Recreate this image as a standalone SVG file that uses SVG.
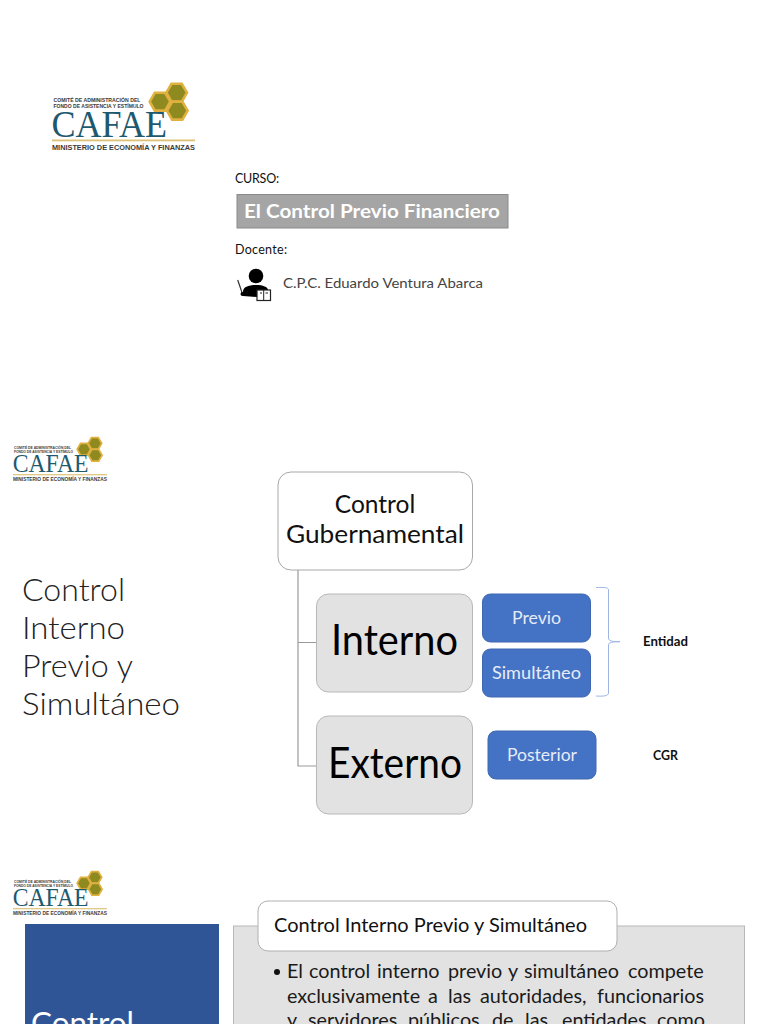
<svg xmlns="http://www.w3.org/2000/svg" width="768" height="1024" viewBox="0 0 768 1024">
<style>
text{font-family:"Lato","Carlito","Open Sans",sans-serif;fill:#111}
.big{font-size:42px;fill:#000}
.blue{fill:#4472c4;stroke:#3e68b2;stroke-width:1}
.gray{fill:#e2e2e2;stroke:#b8b8b8;stroke-width:1}
.wh{font-size:17px;fill:#e6ecf7}
.title{font-size:31px;font-weight:300;fill:#222}
.body{font-size:19.8px;fill:#1a1a1a}
.lab{font-size:12.5px;font-weight:700;fill:#111}
.conn{fill:none;stroke:#9a9a9a;stroke-width:1.2}
.hex{fill:#8f8a1f;stroke:#e0b040;stroke-width:2.600}
.lg{font-family:"Liberation Sans",sans-serif;font-weight:700;fill:#3a3a3a}
</style>
<defs>
<g id="logo">
<polygon class="hex" points="187,92.7 181.8,101.6 171.5,101.6 166.4,92.7 171.5,83.8 181.8,83.8"/>
<polygon class="hex" points="170.300,101.700 165.100,110.600 154.800,110.600 149.700,101.700 154.800,92.800 165.100,92.800"/>
<polygon class="hex" points="187.600,110.700 182.400,119.600 172.100,119.600 167,110.700 172.100,101.800 182.400,101.800"/>
<text class="lg" x="53.500" y="102" textLength="87" lengthAdjust="spacingAndGlyphs" style="font-size:5px">COMITÉ DE ADMINISTRACIÓN DEL</text>
<text class="lg" x="53.500" y="108" textLength="90" lengthAdjust="spacingAndGlyphs" style="font-size:5px">FONDO DE ASISTENCIA Y ESTÍMULO</text>
<text x="51.500" y="137" textLength="115.500" lengthAdjust="spacingAndGlyphs" style="font-family:'Liberation Serif',serif;font-size:38px;fill:#1d5a70">CAFAE</text>
<rect x="52" y="139.500" width="143" height="1.800" fill="#dcc176"/>
<text class="lg" x="52" y="149.500" textLength="143" lengthAdjust="spacingAndGlyphs" style="font-size:7px">MINISTERIO DE ECONOMÍA Y FINANZAS</text>
</g>
</defs>
<rect width="768" height="1024" fill="#fff"/>

<g id="logo-1"><use href="#logo"/></g>
<g id="logo-2"><use href="#logo" transform="translate(13 437) scale(.657) translate(-52 -83)"/></g>
<g id="logo-3"><use href="#logo" transform="translate(13 871) scale(.657) translate(-52 -83)"/></g>

<g id="course-label"><text x="235" y="183" textLength="44" style="font-size:12.500px">CURSO:</text></g>
<g id="course-title">
<rect x="237" y="194.500" width="271" height="33.500" fill="#a5a5a5" stroke="#8a8a8a"/>
<text x="244" y="217.500" textLength="256" lengthAdjust="spacingAndGlyphs" style="font-size:18px;font-weight:700;fill:#fff">El Control Previo Financiero</text>
</g>
<g id="teacher-label"><text x="235" y="254" textLength="52" style="font-size:12.500px">Docente:</text></g>
<g id="teacher">
<circle cx="256" cy="276" r="7.300" fill="#000"/>
<path d="M243 296V292C243 287 248 285 256 285C263 285 268 287 268 290H257V297Z" fill="#000"/>
<path d="M237.700 280L242.500 294" stroke="#333" stroke-width="1.200"/>
<circle cx="242.500" cy="294" r="2" fill="#000"/>
<rect x="257" y="290" width="13.500" height="10.500" fill="#fff" stroke="#222" stroke-width="1.200"/>
<path d="M263.700 290V300.500M260 293H262M265.500 293H268" stroke="#222" stroke-width="1"/>
<text x="283" y="288" textLength="200" lengthAdjust="spacingAndGlyphs" style="font-size:13.500px;fill:#444">C.P.C. Eduardo Ventura Abarca</text>
</g>

<g id="slide-title">
<text class="title" x="22" y="600.500" textLength="103" lengthAdjust="spacingAndGlyphs">Control</text>
<text class="title" x="22" y="639" textLength="103" lengthAdjust="spacingAndGlyphs">Interno</text>
<text class="title" x="22" y="677" textLength="111" lengthAdjust="spacingAndGlyphs">Previo y</text>
<text class="title" x="22" y="715" textLength="158" lengthAdjust="spacingAndGlyphs">Simultáneo</text>
</g>

<g id="connectors">
<path class="conn" d="M298 570V766H317M298 642.500H317"/>
<path d="M596 587.500C603 587.500 608.500 587 608.500 590V638C608.500 641 612 641.700 620 641.700C612 641.700 608.500 642.500 608.500 645V693C608.500 696 603 696.500 596 696" fill="none" stroke="#9db6e2" stroke-width="1"/>
</g>

<g id="node-gubernamental">
<rect x="278" y="472" width="194.500" height="98" rx="13" fill="#fff" stroke="#a8a8a8"/>
<text x="375" y="513" text-anchor="middle" style="font-size:24.500px;fill:#111">Control</text>
<text x="375" y="543" text-anchor="middle" textLength="178" lengthAdjust="spacingAndGlyphs" style="font-size:24.500px;fill:#111">Gubernamental</text>
</g>
<g id="node-interno">
<rect class="gray" x="316.500" y="594" width="156" height="98" rx="12"/>
<text class="big" x="331" y="655" textLength="127" lengthAdjust="spacingAndGlyphs">Interno</text>
</g>
<g id="node-externo">
<rect class="gray" x="316.500" y="716" width="156" height="98" rx="12"/>
<text class="big" x="328" y="778" textLength="134" lengthAdjust="spacingAndGlyphs">Externo</text>
</g>
<g id="node-previo">
<rect class="blue" x="482.500" y="594" width="108" height="48" rx="8"/>
<text class="wh" x="512" y="624" textLength="49" lengthAdjust="spacingAndGlyphs">Previo</text>
</g>
<g id="node-simultaneo">
<rect class="blue" x="482.500" y="649" width="108" height="48" rx="8"/>
<text class="wh" x="492" y="678.500" textLength="89" lengthAdjust="spacingAndGlyphs">Simultáneo</text>
</g>
<g id="node-posterior">
<rect class="blue" x="488" y="731" width="108" height="48" rx="8"/>
<text class="wh" x="507" y="760.500" textLength="70" lengthAdjust="spacingAndGlyphs">Posterior</text>
</g>
<g id="label-entidad"><text class="lab" x="643" y="646" textLength="45" lengthAdjust="spacingAndGlyphs">Entidad</text></g>
<g id="label-cgr"><text class="lab" x="653" y="760" textLength="25" lengthAdjust="spacingAndGlyphs">CGR</text></g>

<g id="side-panel">
<rect x="25" y="924" width="194" height="100" fill="#2f5597"/>
<text x="31" y="1034" textLength="103" lengthAdjust="spacingAndGlyphs" style="font-size:31px;fill:#fff">Control</text>
</g>
<g id="content-panel">
<rect class="gray" x="233.500" y="926" width="511" height="110"/>
<circle cx="277" cy="972" r="3" fill="#111"/>
<text class="body" y="978"><tspan x="287">El</tspan> <tspan x="309">control</tspan> <tspan x="377">interno</tspan> <tspan x="448">previo</tspan> <tspan x="508">y</tspan> <tspan x="524">simultáneo</tspan> <tspan x="628">compete</tspan></text>
<text class="body" y="1002.500"><tspan x="287">exclusivamente</tspan> <tspan x="428">a</tspan> <tspan x="448">las</tspan> <tspan x="480">autoridades,</tspan> <tspan x="597">funcionarios</tspan></text>
<text class="body" y="1027"><tspan x="287">y</tspan> <tspan x="308">servidores</tspan> <tspan x="408">públicos</tspan> <tspan x="492">de</tspan> <tspan x="525">las</tspan> <tspan x="562">entidades</tspan> <tspan x="657">como</tspan></text>
</g>
<g id="content-header">
<rect x="258" y="901" width="359" height="50" rx="10" fill="#fff" stroke="#b0b0b0"/>
<text x="274" y="932" textLength="313" lengthAdjust="spacingAndGlyphs" style="font-size:19px;fill:#111">Control Interno Previo y Simultáneo</text>
</g>
</svg>
